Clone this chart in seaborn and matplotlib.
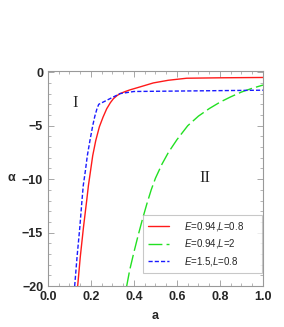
import numpy as np
import pandas as pd
import matplotlib
matplotlib.use("Agg")
import matplotlib.pyplot as plt
import seaborn as sns
from matplotlib.ticker import MultipleLocator, FormatStrFormatter

# values
red_a = [0.138, 0.15, 0.165, 0.18, 0.188, 0.198, 0.208, 0.222, 0.239, 0.256, 0.273, 0.29,
         0.304, 0.32, 0.335, 0.36, 0.381, 0.42, 0.49, 0.56, 0.645, 0.8, 1.0]
red_alpha = [-20, -17.3, -14.5, -12.0, -10.6, -9.2, -7.8, -6.4, -5.1, -4.2, -3.42, -2.85,
             -2.48, -2.2, -2.0, -1.8, -1.65, -1.42, -1.0, -0.75, -0.56, -0.52, -0.49]

green_a = [0.366, 0.38, 0.40, 0.42, 0.44, 0.46, 0.48, 0.50, 0.53, 0.56, 0.60, 0.65,
           0.70, 0.75, 0.80, 0.85, 0.90, 0.95, 1.0]
green_alpha = [-20, -18.5, -16.8, -15.2, -13.7, -12.3, -11.0, -9.9, -8.6, -7.5, -6.3, -5.0,
               -4.1, -3.4, -2.8, -2.3, -1.85, -1.5, -1.2]

blue_a = [0.124, 0.135, 0.148, 0.158, 0.164, 0.174, 0.183, 0.195, 0.208, 0.218, 0.228,
          0.236, 0.335, 0.4, 0.6, 0.8, 1.0]
blue_alpha = [-20, -17.3, -14.5, -12.0, -10.6, -9.2, -7.8, -6.4, -5.0, -4.1, -3.4,
              -3.0, -2.0, -1.8, -1.76, -1.72, -1.68]

labels = ["$E$=0.94,$L$=0.8", "$E$=0.94,$L$=2", "$E$=1.5,$L$=0.8"]
colors = ["#ff1a1a", "#22e022", "#1a1aff"]
dashes = [None, (10, 3), (3, 1.5)]

sns.set_style("ticks")
plt.rcParams['font.family'] = ['Liberation Sans', 'DejaVu Sans']
plt.rcParams['mathtext.fontset'] = 'custom'
plt.rcParams['mathtext.it'] = 'Liberation Sans:italic'
plt.rcParams['mathtext.rm'] = 'Liberation Sans'

fig = plt.figure(figsize=(2.84, 3.27), dpi=100)
ax = fig.add_axes([0.169, 0.125, 0.757, 0.659])

series = [(red_a, red_alpha), (green_a, green_alpha), (blue_a, blue_alpha)]
for (xs, ys), lab, col, ds in zip(series, labels, colors, dashes):
    df = pd.DataFrame({"a": xs, "alpha": ys})
    sns.lineplot(data=df, x="a", y="alpha", ax=ax, color=col, lw=1.0, label=lab)
    if ds is not None:
        ax.lines[-1].set_dashes(ds)

ax.set_xlim(0, 1)
ax.set_ylim(-20, 0.15)
ax.xaxis.set_major_locator(MultipleLocator(0.2))
ax.xaxis.set_minor_locator(MultipleLocator(0.05))
ax.yaxis.set_major_locator(MultipleLocator(5))
ax.yaxis.set_minor_locator(MultipleLocator(1))
ax.xaxis.set_major_formatter(FormatStrFormatter('%.1f'))
ax.tick_params(which='both', direction='in', top=True, right=True, color='#999999',
               labelsize=9)
ax.tick_params(which='major', length=4, width=0.6)
ax.tick_params(which='minor', length=2, width=0.5)
for t in ax.get_xticklabels() + ax.get_yticklabels():
    t.set_fontweight('bold')
for s in ax.spines.values():
    s.set_color('#999999')
    s.set_linewidth(0.8)

ax.set_xlabel("a", fontsize=9, fontweight='bold', labelpad=5)
ax.set_ylabel("α", fontsize=9, fontweight='bold', rotation=0, va='center')
ax.yaxis.set_label_coords(-0.17, 0.5)

ax.text(0.126, -2.86, "I", family='Liberation Serif', fontsize=12, ha='center', va='center')
ax.text(0.73, -9.9, "II", family='Liberation Serif', fontsize=12, ha='center', va='center')

leg = ax.legend(loc='lower left', bbox_to_anchor=(0.441, 0.06, 0.553, 0.3), mode='expand',
                fontsize=7, frameon=True, fancybox=False, edgecolor='#bbbbbb',
                handlelength=2.2, handletextpad=1.5, labelspacing=0.5,
                borderpad=0.5, borderaxespad=0)
leg.get_frame().set_linewidth(0.8)

fig.savefig("out.png", dpi=100)
